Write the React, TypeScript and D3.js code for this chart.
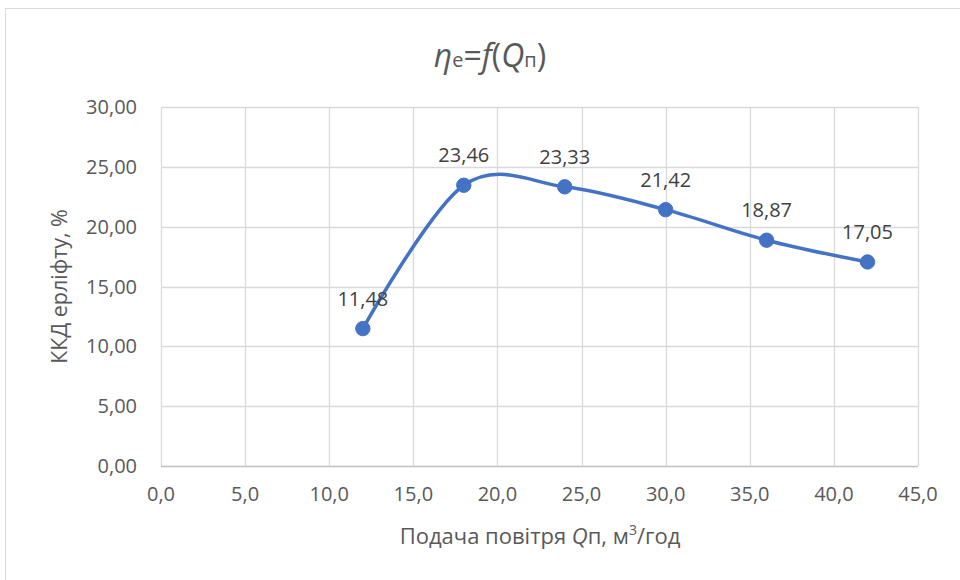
import React from "react";
import * as d3 from "d3";

const xValues = [12, 18, 24, 30, 36, 42];
const yValues = [11.48, 23.46, 23.33, 21.42, 18.87, 17.05];
const xTicks = [0, 5, 10, 15, 20, 25, 30, 35, 40, 45];
const yTicks = [0, 5, 10, 15, 20, 25, 30];

const W = 960;
const H = 580;
const FONT = "'Open Sans', 'Noto Sans', sans-serif";

export default function App() {
  const x = d3.scaleLinear().domain([0, 45]).range([161, 918]);
  const y = d3.scaleLinear().domain([0, 30]).range([466, 107]);
  const fmt = (v: number, d: number) => v.toFixed(d).replace(".", ",");
  const pts = xValues.map((v, i) => [x(v), y(yValues[i])] as [number, number]);
  const line = d3.line().curve(d3.curveCardinal.tension(0))(pts) || "";
  const tickColor = "#595959";
  return (
    <svg width={W} height={H} style={{ position: "absolute", left: 0, top: 0, background: "#fff" }} fontFamily={FONT}>
      <rect x={5.5} y={8.5} width={W} height={H} fill="#fff" stroke="#d9d9d9" strokeWidth={1} />
      {/* title */}
      <text x={490} y={67} textAnchor="middle" fill="#595959" fontSize={32}>
        <tspan fontStyle="italic">η</tspan>
        <tspan fontSize={20}>e</tspan>
        <tspan>=</tspan>
        <tspan fontStyle="italic">f</tspan>
        <tspan>(</tspan>
        <tspan fontStyle="italic">Q</tspan>
        <tspan fontSize={20}>п</tspan>
        <tspan>)</tspan>
      </text>
      {/* grid */}
      {yTicks.map((t) => (
        <line key={"gy" + t} x1={x(0)} x2={x(45)} y1={Math.round(y(t)) + 0.5} y2={Math.round(y(t)) + 0.5} stroke={t === 0 ? "#bfbfbf" : "#d9d9d9"} strokeWidth={1.3} />
      ))}
      {xTicks.map((t) => (
        <line key={"gx" + t} x1={Math.round(x(t)) + 0.5} x2={Math.round(x(t)) + 0.5} y1={y(30)} y2={y(0)} stroke="#d9d9d9" strokeWidth={1.3} />
      ))}
      {/* tick labels */}
      {yTicks.map((t) => (
        <text key={"ly" + t} x={137} y={y(t)} dy="0.35em" textAnchor="end" fill={tickColor} fontSize={20}>
          {fmt(t, 2)}
        </text>
      ))}
      {xTicks.map((t) => (
        <text key={"lx" + t} x={x(t)} y={501} textAnchor="middle" fill={tickColor} fontSize={20}>
          {fmt(t, 1)}
        </text>
      ))}
      {/* axis titles */}
      <text x={540} y={544} textAnchor="middle" fill={tickColor} fontSize={22}>
        <tspan>Подача повітря </tspan>
        <tspan fontStyle="italic">Q</tspan>
        <tspan>п, м</tspan>
        <tspan fontSize={14} dy={-9}>3</tspan>
        <tspan dy={9}>/год</tspan>
      </text>
      <text transform={`translate(67,${(y(0) + y(30)) / 2}) rotate(-90)`} textAnchor="middle" fill={tickColor} fontSize={21.5}>
        ККД ерліфту, %
      </text>
      {/* series */}
      <path d={line} fill="none" stroke="#4472C4" strokeWidth={3.5} strokeLinecap="round" />
      {pts.map((p, i) => (
        <circle key={"c" + i} cx={p[0]} cy={p[1]} r={7.2} fill="#4472C4" stroke="#4472C4" />
      ))}
      {pts.map((p, i) => (
        <text key={"dl" + i} x={p[0]} y={p[1] - 23} textAnchor="middle" fill="#404040" fontSize={20}>
          {fmt(yValues[i], 2)}
        </text>
      ))}
    </svg>
  );
}
